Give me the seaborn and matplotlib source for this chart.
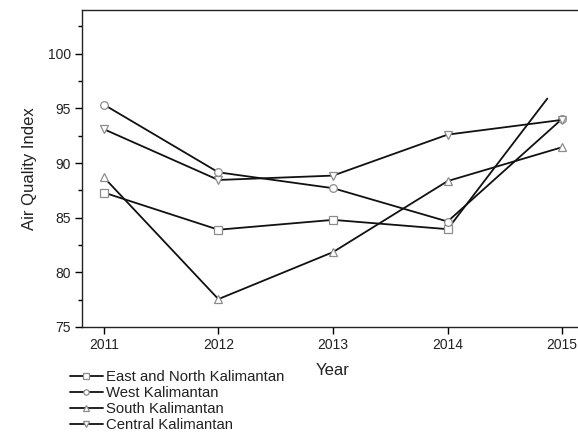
import matplotlib
matplotlib.use("Agg")
import matplotlib.pyplot as plt
import seaborn as sns
from matplotlib.ticker import MultipleLocator

sns.set_theme(style="white")
plt.rcParams['font.family'] = ['Liberation Sans', 'DejaVu Sans']

years = [2011, 2012, 2013, 2014, 2015]
east_north_x = [2011, 2012, 2013, 2014, 2014.87]
east_north = [87.3, 83.9, 84.8, 83.95, 95.9]
west = [95.35, 89.15, 87.7, 84.65, 94.05]
south = [88.7, 77.55, 81.85, 88.35, 91.45]
central = [93.1, 88.45, 88.85, 92.6, 93.95]

labels = ["East and North Kalimantan", "West Kalimantan",
          "South Kalimantan", "Central Kalimantan"]
series_x = [east_north_x, years, years, years]
series_y = [east_north, west, south, central]
markers = ["s", "o", "^", "v"]
markevery = [[0, 1, 2, 3], None, None, None]

fig = plt.figure(figsize=(5.78, 4.34), dpi=100)
ax = fig.add_axes([82 / 578, 1 - 327 / 434, (584 - 82) / 578, (327 - 10) / 434])

for xs, ys, m, lab, me in zip(series_x, series_y, markers, labels, markevery):
    sns.lineplot(x=xs, y=ys, ax=ax, color="#111111", linewidth=1.3,
                 marker=m, markersize=5.5, markerfacecolor="white",
                 markeredgecolor="#8c8c8c", markeredgewidth=0.9,
                 markevery=me, label=lab, legend=False, sort=False,
                 estimator=None)

ax.set_xlim(2010.81, 2015.19)
ax.set_ylim(75, 104)
ax.set_xticks(years)
ax.set_xticklabels([str(y) for y in years])
ax.yaxis.set_major_locator(MultipleLocator(5))
ax.yaxis.set_minor_locator(MultipleLocator(2.5))
ax.set_yticks([75, 80, 85, 90, 95, 100])
ax.tick_params(axis="both", which="major", direction="out", length=5,
               width=1, color="black", labelsize=10, pad=3,
               left=True, bottom=True, labelcolor="#222222")
ax.tick_params(axis="y", which="minor", direction="out", length=3,
               width=1, color="black", left=True)
ax.set_xlabel("Year", fontsize=12, labelpad=8, color="#222222")
ax.set_ylabel("Air Quality Index", fontsize=12, labelpad=8, color="#222222")
for s in ["left", "bottom", "top"]:
    ax.spines[s].set_color("#222222")
    ax.spines[s].set_linewidth(1.0)
ax.spines["right"].set_visible(False)

handles = ax.get_lines()[:4]
leg = fig.legend(handles, labels, loc="upper left",
                 bbox_to_anchor=(70 / 578, 1 - 370 / 434), frameon=False,
                 fontsize=10.7, handlelength=2.2, handletextpad=0.2,
                 labelspacing=0.14, borderaxespad=0, borderpad=0,
                 markerscale=0.7)
for t in leg.get_texts():
    t.set_color("#222222")

fig.savefig("out.png", dpi=100)
